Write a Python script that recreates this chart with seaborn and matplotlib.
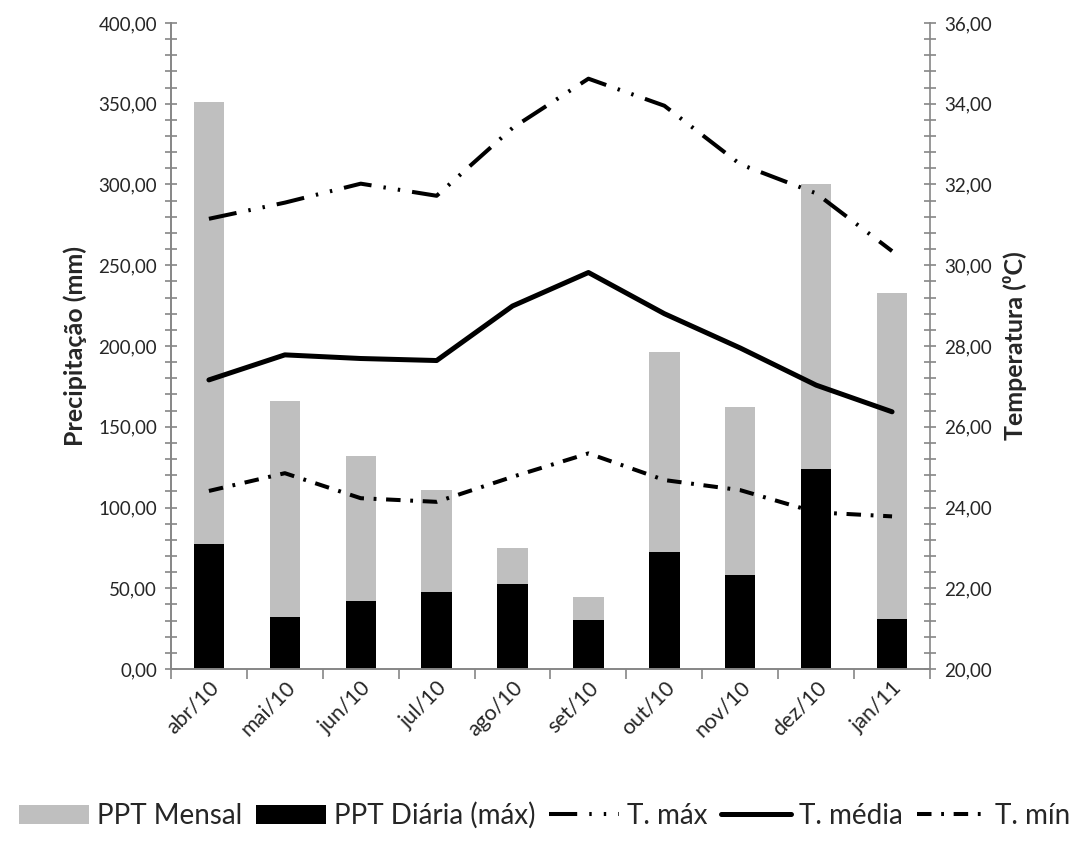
import numpy as np
import pandas as pd
import matplotlib
matplotlib.use("Agg")
import matplotlib.pyplot as plt
import seaborn as sns
from matplotlib.ticker import FuncFormatter, MultipleLocator

# Dados
meses = ["abr/10", "mai/10", "jun/10", "jul/10", "ago/10",
         "set/10", "out/10", "nov/10", "dez/10", "jan/11"]
ppt_mensal = [351, 166, 132, 111, 75, 44.5, 196, 162, 300, 233]
ppt_diaria = [77.5, 32.5, 42, 47.5, 52.5, 30.5, 72.5, 58.5, 124, 31]
t_max = [31.15, 31.55, 32.02, 31.72, 33.40, 34.62, 33.95, 32.50, 31.78, 30.35]
t_media = [27.16, 27.78, 27.69, 27.64, 28.99, 29.82, 28.80, 27.95, 27.03, 26.37]
t_min = [24.41, 24.85, 24.23, 24.14, 24.76, 25.34, 24.68, 24.43, 23.88, 23.78]

df = pd.DataFrame({"mes": meses, "mensal": ppt_mensal, "diaria": ppt_diaria,
                   "tmax": t_max, "tmedia": t_media, "tmin": t_min})

sns.set_theme(style="white")
plt.rcParams["font.family"] = ["Lato", "DejaVu Sans"]

cinza = "#868686"
fmt = FuncFormatter(lambda v, p: f"{v:.2f}".replace(".", ","))

fig, ax = plt.subplots(figsize=(10.89, 8.41), dpi=100)
fig.subplots_adjust(left=0.157, right=0.854, top=0.9727, bottom=0.2045)

# Barras sobrepostas
sns.barplot(data=df, x="mes", y="mensal", color="#bfbfbf", width=0.4,
            saturation=1, linewidth=0, ax=ax, label="PPT Mensal")
sns.barplot(data=df, x="mes", y="diaria", color="black", width=0.4,
            saturation=1, linewidth=0, ax=ax, label="PPT Diária (máx)")

ax.set_ylim(0, 400)
ax.yaxis.set_major_locator(MultipleLocator(50))
ax.yaxis.set_minor_locator(MultipleLocator(10))
ax.yaxis.set_major_formatter(fmt)
ax.set_xlim(-0.5, len(meses) - 0.5)
ax.set_xticks(np.arange(-0.5, len(meses), 1), minor=True)
ax.set_xlabel("")
ax.set_ylabel("Precipitação (mm)", fontsize=18, fontweight="bold", labelpad=8)

# Temperaturas no eixo secundário
ax2 = ax.twinx()
sns.lineplot(data=df, x="mes", y="tmax", color="black", linewidth=2.9,
             sort=False, ax=ax2, label="T. máx")
sns.lineplot(data=df, x="mes", y="tmedia", color="black", linewidth=3.6,
             sort=False, ax=ax2, label="T. média")
sns.lineplot(data=df, x="mes", y="tmin", color="black", linewidth=2.9,
             sort=False, ax=ax2, label="T. mín")
ax2.lines[0].set_dashes([7, 3, 0.6, 3, 0.6, 3])
ax2.lines[2].set_dashes([3.6, 2.4, 0.7, 2.4])

ax2.set_ylim(20, 36)
ax2.yaxis.set_major_locator(MultipleLocator(2))
ax2.yaxis.set_minor_locator(MultipleLocator(0.4))
ax2.yaxis.set_major_formatter(fmt)
ax2.set_xlim(-0.5, len(meses) - 0.5)
ax2.set_ylabel("Temperatura (⁰C)", fontsize=18, fontweight="bold", labelpad=8)
ax2.set_xlabel("")

for a in (ax, ax2):
    for s in a.spines.values():
        s.set_color(cinza)
        s.set_linewidth(1.2)
    a.spines["top"].set_visible(False)
    a.grid(False)
ax.spines["right"].set_visible(False)

ax.tick_params(axis="y", which="both", direction="inout", length=8,
               color=cinza, width=1.2, labelsize=13.5, left=True, pad=6)
ax2.tick_params(axis="y", which="both", direction="inout", length=8,
                color=cinza, width=1.2, labelsize=13.5, right=True, pad=6)
ax.tick_params(axis="x", which="major", length=0, labelsize=15.5, pad=6)
ax.tick_params(axis="x", which="minor", direction="out", length=7,
               color=cinza, width=1.2, bottom=True)
for lbl in ax.get_xticklabels():
    lbl.set_rotation(45)
    lbl.set_ha("right")
    lbl.set_rotation_mode("anchor")

# Legenda única embaixo
h1, l1 = ax.get_legend_handles_labels()
h2, l2 = ax2.get_legend_handles_labels()
if ax2.get_legend():
    ax2.get_legend().remove()
if ax.get_legend():
    ax.get_legend().remove()
fig.legend(h1 + h2, l1 + l2, loc="center", bbox_to_anchor=(0.5, 0.03),
           ncol=5, frameon=False, fontsize=20, handlelength=2.5,
           handleheight=0.7, handletextpad=0.3, columnspacing=0.5)

fig.savefig("out.png", dpi=100)
